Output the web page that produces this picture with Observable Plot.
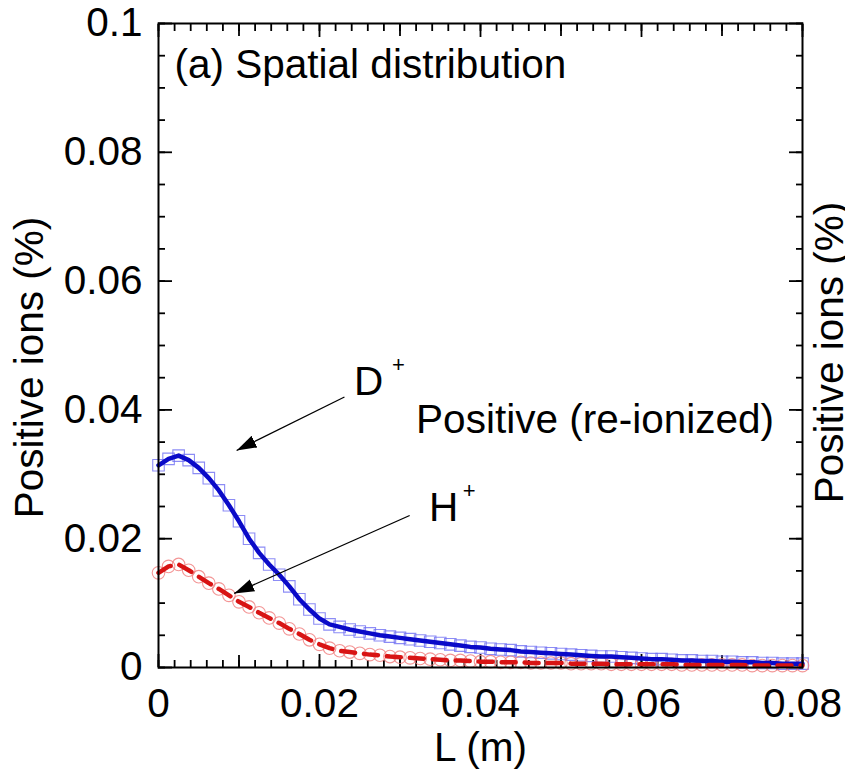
<!DOCTYPE html>
<html><head><meta charset="utf-8">
<script src="https://cdn.jsdelivr.net/npm/d3@7"></script>
<script src="https://cdn.jsdelivr.net/npm/@observablehq/plot@0.6"></script>
<style>body{margin:0;background:#fff} #chart{width:845px;height:782px}</style>
</head><body><div id="chart"></div>
<script>
// L (m) positions of the sampled points
const L = [0,0.00125,0.0025,0.00375,0.005,0.00625,0.0075,0.00875,0.01,0.01125,0.0125,0.01375,0.015,0.01625,0.0175,0.01875,0.02,0.02125,0.0225,0.02375,0.025,0.02625,0.0275,0.02875,0.03,0.03125,0.0325,0.03375,0.035,0.03625,0.0375,0.03875,0.04,0.04125,0.0425,0.04375,0.045,0.04625,0.0475,0.04875,0.05,0.05125,0.0525,0.05375,0.055,0.05625,0.0575,0.05875,0.06,0.06125,0.0625,0.06375,0.065,0.06625,0.0675,0.06875,0.07,0.07125,0.0725,0.07375,0.075,0.07625,0.0775,0.07875,0.08];
// D+ positive ions (%)
const dPlus = [0.0314,0.0324,0.0329,0.0322,0.0310,0.0294,0.0275,0.0252,0.0227,0.0200,0.0178,0.0160,0.0144,0.0126,0.0106,0.0090,0.0076,0.0067,0.0063,0.0059,0.0056,0.0053,0.0050,0.0048,0.0046,0.0044,0.0042,0.0040,0.0038,0.0036,0.0034,0.0032,0.0031,0.0029,0.0028,0.0027,0.0025,0.0024,0.0023,0.0022,0.0021,0.0020,0.0019,0.0018,0.0017,0.0017,0.0016,0.0015,0.0014,0.0013,0.0013,0.0012,0.0011,0.0011,0.0010,0.0010,0.0009,0.0009,0.0008,0.0008,0.0007,0.0007,0.0006,0.0006,0.0006];
// H+ positive ions (%)
const hPlus = [0.0147,0.0157,0.0160,0.0151,0.0141,0.0131,0.0122,0.0112,0.0102,0.0094,0.0085,0.0077,0.0069,0.0060,0.0052,0.0043,0.0036,0.0030,0.0026,0.0024,0.0022,0.0020,0.0019,0.0017,0.0016,0.0015,0.0014,0.0013,0.0012,0.0011,0.0011,0.0010,0.0009,0.0009,0.0008,0.0008,0.0008,0.0007,0.0007,0.0007,0.0007,0.0006,0.0006,0.0006,0.0006,0.0005,0.0005,0.0005,0.0005,0.0005,0.0005,0.0005,0.0004,0.0004,0.0004,0.0004,0.0004,0.0004,0.0004,0.0003,0.0003,0.0003,0.0003,0.0003,0.0003];

const xTicks = [0, 0.02, 0.04, 0.06, 0.08];
const xTickLabels = ["0", "0.02", "0.04", "0.06", "0.08"];
const xMidTicks = [0.01, 0.03, 0.05, 0.07];
const xMinorTicks = d3.range(0, 0.0801, 0.002);
const yTicks = [0, 0.02, 0.04, 0.06, 0.08, 0.1];
const yTickLabels = ["0", "0.02", "0.04", "0.06", "0.08", "0.1"];
const yMinorTicks = d3.range(0, 0.1001, 0.005);

const xLabel = "L (m)";
const yLabel = "Positive ions (%)";

const notes = [
  {text: "(a) Spatial distribution", x: 0.00199, y: 0.0935},
  {text: "D", x: 0.0243, y: 0.0444},
  {text: "Positive (re-ionized)", x: 0.0320, y: 0.0384},
  {text: "H", x: 0.0336, y: 0.0248}
];
const sups = [
  {text: "+", x: 0.0290, y: 0.0470},
  {text: "+", x: 0.0378, y: 0.0274}
];
const arrows = [
  {x1: 0.0231, y1: 0.0420, x2: 0.0097, y2: 0.0337},
  {x1: 0.0312, y1: 0.0236, x2: 0.0094, y2: 0.0115}
];

const series = L.map((l, i) => ({L: l, d: dPlus[i], h: hPlus[i]}));

const FONT = "'Liberation Sans', Arial, Helvetica, sans-serif";
const FS = 40.5;

function filledHead(color, context) {
  const m = d3.create("svg:marker")
    .attr("viewBox", "-20 -8 20 16")
    .attr("markerWidth", 20)
    .attr("markerHeight", 16)
    .attr("markerUnits", "userSpaceOnUse")
    .attr("refX", 0).attr("refY", 0)
    .attr("orient", "auto");
  m.append("path").attr("d", "M-20,-6.5L0,0L-20,6.5Z").attr("fill", "black").attr("stroke", "none");
  return m.node();
}

const axisCommon = {label: null, strokeWidth: 1.8};

const chart = Plot.plot({
  width: 845,
  height: 782,
  marginLeft: 158,
  marginRight: 43,
  marginTop: 23,
  marginBottom: 115,
  style: {fontFamily: FONT, fontSize: FS + "px", background: "#fff", color: "#000"},
  x: {domain: [0, 0.08]},
  y: {domain: [0, 0.1]},
  marks: [
    // tick marks (inward) on all four sides
    Plot.axisX(xMinorTicks, {...axisCommon, anchor: "bottom", tickSize: -7, fill: "none"}),
    Plot.axisX(xMinorTicks, {...axisCommon, anchor: "top", tickSize: -7, fill: "none"}),
    Plot.axisX(xMidTicks, {...axisCommon, anchor: "bottom", tickSize: -12, fill: "none"}),
    Plot.axisX(xMidTicks, {...axisCommon, anchor: "top", tickSize: -12, fill: "none"}),
    Plot.axisX(xTicks, {...axisCommon, anchor: "bottom", tickSize: -13, fill: "none"}),
    Plot.axisX(xTicks, {...axisCommon, anchor: "top", tickSize: -13, fill: "none"}),
    Plot.axisY(yMinorTicks, {...axisCommon, anchor: "left", tickSize: -7, fill: "none"}),
    Plot.axisY(yMinorTicks, {...axisCommon, anchor: "right", tickSize: -7, fill: "none"}),
    Plot.axisY(yTicks, {...axisCommon, anchor: "left", tickSize: -14, fill: "none"}),
    Plot.axisY(yTicks, {...axisCommon, anchor: "right", tickSize: -14, fill: "none"}),
    // tick labels
    Plot.axisX(xTicks, {label: null, anchor: "bottom", tickSize: 0, tickPadding: 21, tickFormat: (d, i) => xTickLabels[i], fontSize: FS}),
    Plot.axisY(yTicks, {label: null, anchor: "left", tickSize: 0, tickPadding: 16, tickFormat: (d, i) => yTickLabels[i], fontSize: FS}),
    // axis titles
    Plot.text([xLabel], {frameAnchor: "bottom", textAnchor: "middle", lineAnchor: "middle", dy: 81, fontSize: FS}),
    Plot.text([yLabel], {frameAnchor: "left", textAnchor: "middle", lineAnchor: "middle", rotate: -90, dx: -128, dy: 22, fontSize: FS}),
    Plot.text([yLabel], {frameAnchor: "right", textAnchor: "middle", lineAnchor: "middle", rotate: -90, dx: 28, dy: 7, fontSize: FS}),
    // data markers
    Plot.dot(series, {x: "L", y: "d", symbol: "square", r: 6.5, stroke: "#6f6ff2", strokeOpacity: 0.8, strokeWidth: 1.1, fill: "none"}),
    Plot.dot(series, {x: "L", y: "h", symbol: "circle", r: 6.3, stroke: "#f07a7a", strokeOpacity: 0.8, strokeWidth: 1.1, fill: "none"}),
    // lines
    Plot.line(series, {x: "L", y: "d", stroke: "#0a0ac8", strokeWidth: 4.5}),
    Plot.line(series, {x: "L", y: "h", stroke: "#d81414", strokeWidth: 4.5, strokeDasharray: "14,9"}),
    // annotations
    Plot.link(arrows, {x1: "x1", y1: "y1", x2: "x2", y2: "y2", stroke: "black", strokeWidth: 1.3, markerEnd: filledHead}),
    Plot.text(notes, {x: "x", y: "y", text: "text", textAnchor: "start", fontSize: FS}),
    Plot.text(sups, {x: "x", y: "y", text: "text", textAnchor: "start", fontSize: 22}),
    Plot.frame({stroke: "black", strokeWidth: 2})
  ]
});
document.getElementById("chart").appendChild(chart);
</script>
</body></html>
